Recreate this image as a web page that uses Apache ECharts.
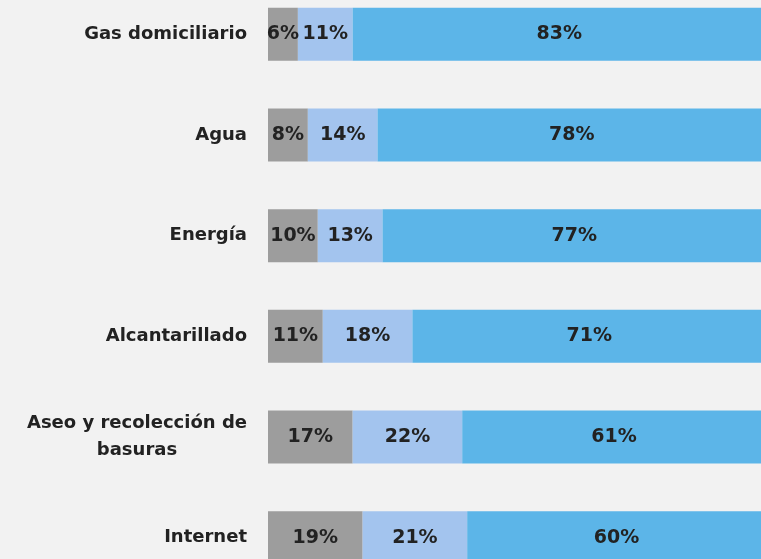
<!DOCTYPE html>
<html lang="es">
<head>
    <meta charset="UTF-8">
    <title>Servicios públicos</title>
    <script src="https://cdn.jsdelivr.net/npm/echarts@6/dist/echarts.min.js"></script>
    <style>
        html, body { margin: 0; padding: 0; background: #f2f2f2; overflow: hidden; }
        /* el gráfico original está recortado arriba y a la derecha */
        #chart { width: 772px; height: 604px; position: absolute; left: 0; top: -16px; }
    </style>
</head>
<body>
    <div id="chart"></div>
    <script>
        // datos (de arriba hacia abajo)
        var categorias = ['Gas domiciliario', 'Agua', 'Energía', 'Alcantarillado', 'Aseo y recolección de\nbasuras', 'Internet'];
        var serieGris = [6, 8, 10, 11, 17, 19];
        var serieCeleste = [11, 14, 13, 18, 22, 21];
        var serieAzul = [83, 78, 77, 71, 61, 60];

        var chart = echarts.init(document.getElementById('chart'));

        function serie(nombre, datos, color) {
            return {
                name: nombre,
                type: 'bar',
                stack: 'total',
                barWidth: 53,
                data: datos,
                itemStyle: { color: color },
                label: {
                    show: true,
                    position: 'inside',
                    formatter: '{c}%',
                    color: '#222',
                    fontFamily: 'DejaVu Sans',
                    fontWeight: 'bold',
                    fontSize: 19
                }
            };
        }

        var option = {
            backgroundColor: '#f2f2f2',
            animation: false,
            grid: { left: 268, right: 6, top: 0, bottom: 0, containLabel: false },
            xAxis: {
                type: 'value',
                min: 0,
                max: 100,
                show: false
            },
            yAxis: {
                type: 'category',
                inverse: true,
                data: categorias,
                axisLine: { show: false },
                axisTick: { show: false },
                splitLine: { show: false },
                axisLabel: {
                    margin: 21,
                    color: '#222',
                    fontFamily: 'DejaVu Sans',
                    fontWeight: 'bold',
                    fontSize: 18,
                    lineHeight: 27,
                    formatter: function (v) {
                        var partes = v.split('\n');
                        if (partes.length > 1) {
                            return '{a|' + partes[0] + '}\n{b|' + partes[1] + '}';
                        }
                        return v;
                    },
                    rich: {
                        a: { fontFamily: 'DejaVu Sans', fontWeight: 'bold', fontSize: 18, color: '#222', lineHeight: 27 },
                        b: { fontFamily: 'DejaVu Sans', fontWeight: 'bold', fontSize: 18, color: '#222', lineHeight: 27, align: 'center' }
                    }
                }
            },
            series: [
                serie('Gris', serieGris, '#9d9d9d'),
                serie('Celeste', serieCeleste, '#a3c4ee'),
                serie('Azul', serieAzul, '#5cb5e8')
            ]
        };

        chart.setOption(option);
    </script>
</body>
</html>
